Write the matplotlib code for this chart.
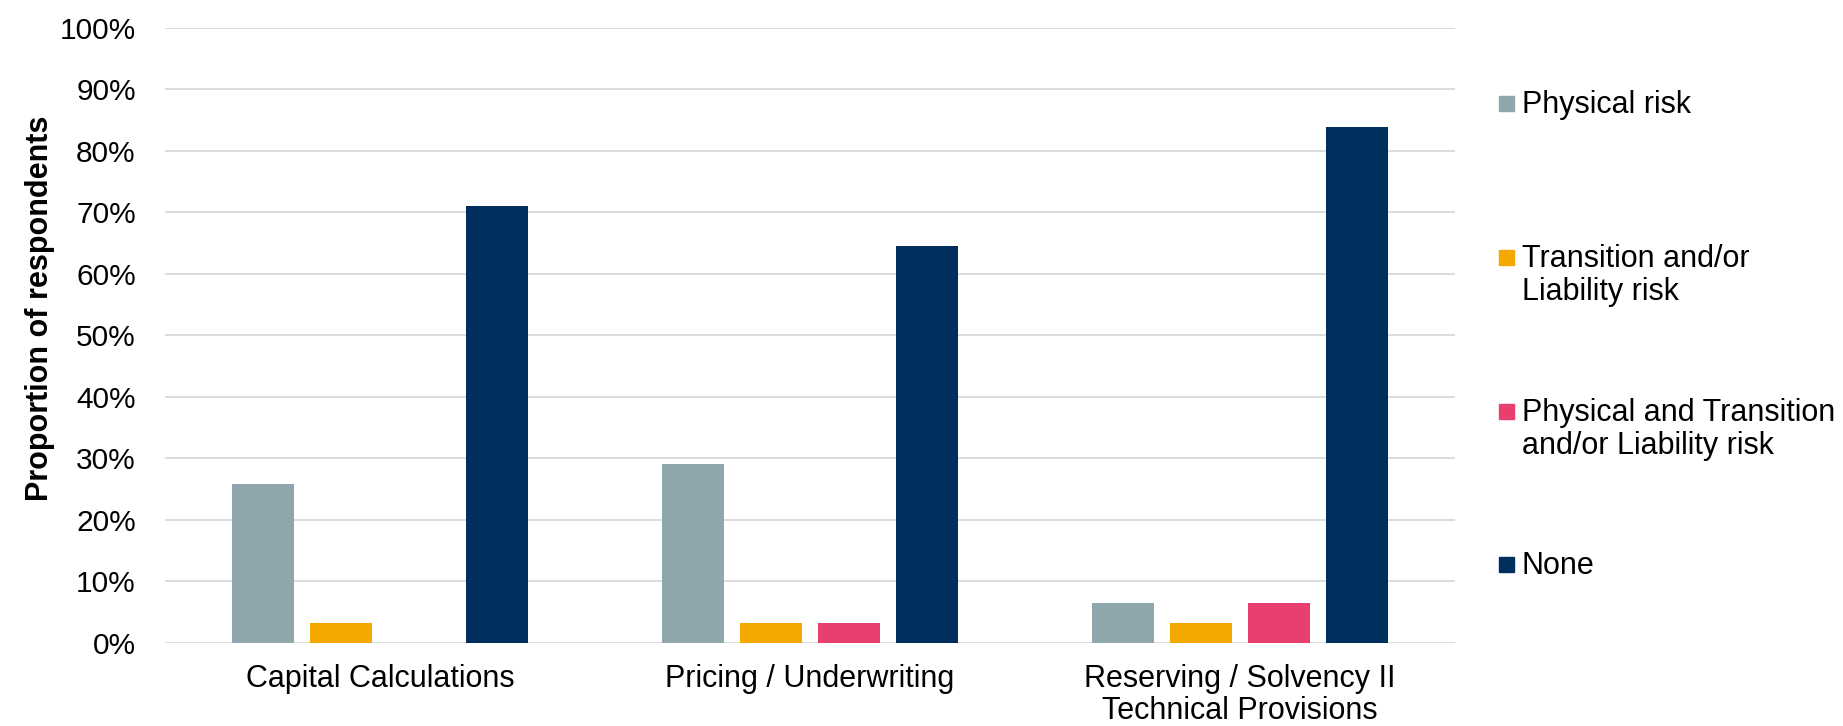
import matplotlib
matplotlib.use("Agg")
import matplotlib.pyplot as plt
import numpy as np
from matplotlib.patches import Rectangle
from matplotlib.ticker import FuncFormatter

plt.rcParams['font.family'] = ['Liberation Sans', 'DejaVu Sans']

categories = ["Capital Calculations", "Pricing / Underwriting",
              "Reserving / Solvency II\nTechnical Provisions"]
series_names = ["Physical risk", "Transition and/or\nLiability risk",
                "Physical and Transition\nand/or Liability risk", "None"]
physical = [25.8, 29.0, 6.5]
transition = [3.2, 3.2, 3.2]
physical_and_transition = [0.0, 3.2, 6.5]
none = [71.0, 64.5, 83.9]
colors = ["#8FA7AC", "#F5A800", "#E83F6F", "#002E5D"]
y_ticks = [0, 10, 20, 30, 40, 50, 60, 70, 80, 90, 100]

W, H = 1843, 726
fig = plt.figure(figsize=(W / 100, H / 100), dpi=100)
ax = fig.add_axes([165 / W, (H - 642.7) / H, 1290 / W, 615 / H])

series = [physical, transition, physical_and_transition, none]
x = np.arange(len(categories))
bw = 0.142
step = 0.1814
for i, (vals, c) in enumerate(zip(series, colors)):
    ax.bar(x + (i - 1.5) * step, vals, width=bw, color=c, zorder=3)

ax.set_xlim(-0.5, 2.5)
ax.set_ylim(0, 100)
ax.set_yticks(y_ticks)
ax.yaxis.set_major_formatter(FuncFormatter(lambda v, p: f"{v:.0f}%"))
ax.set_xticks(x)
ax.set_xticklabels(categories, fontsize=22, linespacing=1.08)
ax.tick_params(axis='x', length=0, pad=15.5)
ax.tick_params(axis='y', length=0, pad=21, labelsize=21.5)
ax.grid(axis='y', color='#D9D9D9', linewidth=1.3, zorder=0)
for s in ax.spines.values():
    s.set_visible(False)

ax.set_ylabel("Proportion of respondents", fontsize=22, fontweight='bold',
              va='center', ha='center')
ax.yaxis.set_label_coords((40 - 165) / 1290, (642.7 - 308) / 615)

# legend (manually placed entries; first text line aligned with its marker)
marker_tops = [96, 250, 404, 557]
msize = 15
for name, c, top in zip(series_names, colors, marker_tops):
    fig.add_artist(Rectangle((1499 / W, (H - top - msize) / H), msize / W, msize / H,
                             transform=fig.transFigure, color=c))
    fig.text(1522 / W, (H - top + 6) / H, name, fontsize=22,
             va='top', ha='left', linespacing=1.12)

fig.savefig("out.png", dpi=100)
